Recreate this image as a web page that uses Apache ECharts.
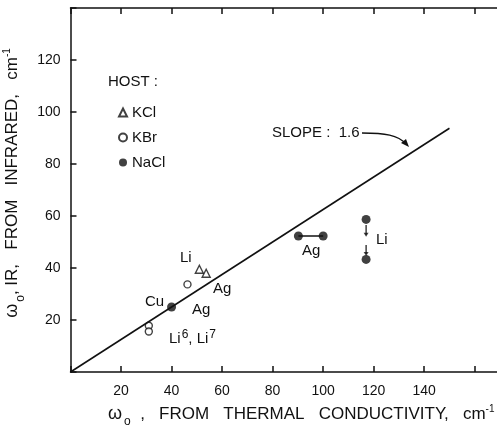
<!DOCTYPE html>
<html><head><meta charset="utf-8">
<script src="https://cdn.jsdelivr.net/npm/echarts@6/dist/echarts.min.js"></script>
<style>html,body{margin:0;padding:0;background:#fff}#c{width:497px;height:434px}</style>
</head><body><div id="c"></div>
<script>
// ---- data ----
const kclX = [51, 53.7];
const kclY = [39.5, 38];
const kbrX = [31, 31, 46.3];
const kbrY = [17.8, 15.6, 33.7];
const naclX = [40, 90.2, 100, 117, 117];
const naclY = [25, 52.3, 52.3, 58.7, 43.3];
const agPairX = [90.2, 100];
const agPairY = [52.3, 52.3];
const slope = 1.6;
const lineX = [0, 150];
const liArrowTopY = [56.5, 52.8];
const liArrowBotY = [48.8, 45.4];
const liArrowX = 117;
const xTickLabels = [20, 40, 60, 80, 100, 120, 140];
const yTickLabels = [20, 40, 60, 80, 100, 120];

const zip = (a, b) => a.map((v, i) => [v, b[i]]);
const FONT = 'Liberation Sans';
const chart = echarts.init(document.getElementById('c'));
const axisCommon = {
  axisLine: {lineStyle: {color: '#111', width: 1.5}},
  axisTick: {inside: true, length: 6, lineStyle: {color: '#111', width: 1.5}},
  splitLine: {show: false}
};
const nameRich = {
  w: {fontFamily: FONT, fontSize: 18, color: '#111'},
  s: {fontFamily: FONT, fontSize: 12, color: '#111', padding: [16, 0, 0, 2]},
  t: {fontFamily: FONT, fontSize: 17, color: '#111'},
  p: {fontFamily: FONT, fontSize: 10, color: '#111', padding: [0, 0, 10, 0]}
};
const txt = (left, top, text) => ({type: 'text', left, top, style: {text, font: '15px ' + FONT, fill: '#111'}});
chart.setOption({
  animation: false,
  backgroundColor: '#fff',
  grid: {left: 70.5, top: 8, right: -3, bottom: 62, containLabel: false, outerBoundsMode: 'none'},
  legend: {
    data: ['KCl', 'KBr', 'NaCl'], orient: 'vertical', left: 113, top: 100,
    itemWidth: 8, itemHeight: 8, itemGap: 10,
    textStyle: {fontFamily: FONT, fontSize: 15, color: '#111'}
  },
  xAxis: [
    Object.assign({type: 'value', min: 0, max: 170, interval: 20, position: 'bottom',
      axisLabel: {fontFamily: FONT, fontSize: 14, color: '#111', margin: 12,
        formatter: v => xTickLabels.includes(v) ? String(v) : ''},
      name: '{w|ω}{s|o}{t|  ,   FROM   THERMAL   CONDUCTIVITY,   cm}{p|-1}',
      nameLocation: 'middle', nameGap: 28,
      nameTextStyle: {padding: [0, 0, 0, 32], rich: nameRich}
    }, axisCommon),
    Object.assign({type: 'value', min: 0, max: 170, interval: 20, position: 'top',
      axisLabel: {show: false}}, axisCommon)
  ],
  yAxis: Object.assign({type: 'value', min: 0, max: 140, interval: 20,
    axisLabel: {fontFamily: FONT, fontSize: 14, color: '#111', margin: 10,
      formatter: v => yTickLabels.includes(v) ? String(v) : ''},
    name: '{w|ω}{s|o}{t|, IR,   FROM   INFRARED,   cm}{p|-1}',
    nameLocation: 'middle', nameGap: 37,
    nameTextStyle: {padding: [0, 0, 0, 14], rich: nameRich}
  }, axisCommon),
  series: [
    {type: 'line', data: lineX.map(x => [x, x / slope]), symbol: 'none',
      lineStyle: {color: '#111', width: 1.6}, silent: true},
    {type: 'line', data: zip(agPairX, agPairY), symbol: 'none',
      lineStyle: {color: '#111', width: 1.3}},
    {type: 'line', data: liArrowTopY.map(y => [liArrowX, y]), symbol: 'none',
      lineStyle: {color: '#111', width: 1.2}},
    {type: 'line', data: liArrowBotY.map(y => [liArrowX, y]), symbol: 'none',
      lineStyle: {color: '#111', width: 1.2}},
    {type: 'scatter', data: [[liArrowX, liArrowTopY[1]]], symbol: 'triangle', symbolSize: [5, 4], symbolRotate: 180,
      itemStyle: {color: '#111'}},
    {type: 'scatter', data: [[liArrowX, liArrowBotY[1]]], symbol: 'triangle', symbolSize: [5, 4], symbolRotate: 180,
      itemStyle: {color: '#111'}},
    {name: 'KCl', type: 'scatter', data: zip(kclX, kclY), symbol: 'triangle', symbolSize: 8,
      itemStyle: {color: '#fff', borderColor: '#111', borderWidth: 1.4}},
    {name: 'KBr', type: 'scatter', data: zip(kbrX, kbrY), symbol: 'circle', symbolSize: 7,
      itemStyle: {color: '#fff', borderColor: '#111', borderWidth: 1.4}},
    {name: 'NaCl', type: 'scatter', data: zip(naclX, naclY), symbol: 'circle', symbolSize: 9,
      itemStyle: {color: '#111'}}
  ],
  graphic: [
    txt(108, 74, 'HOST :'),
    txt(180, 250, 'Li'),
    txt(213, 281, 'Ag'),
    txt(145, 294, 'Cu'),
    txt(192, 302, 'Ag'),
    {type: 'text', left: 169, top: 329, style: {
      text: '{a|Li}{b|6}{a|, Li}{b|7}',
      rich: {a: {font: '15px ' + FONT, fill: '#111'}, b: {font: '12px ' + FONT, fill: '#111', padding: [0, 0, 8, 1]}}}},
    txt(302, 243, 'Ag'),
    txt(376, 232, 'Li'),
    txt(272, 125, 'SLOPE :  1.6'),
    {type: 'bezierCurve', shape: {x1: 362, y1: 133, x2: 406, y2: 144, cpx1: 385, cpy1: 133, cpx2: 398, cpy2: 135},
      style: {stroke: '#111', lineWidth: 1.3, fill: 'none'}},
    {type: 'polygon', shape: {points: [[409, 147], [401, 143], [406, 139]]}, style: {fill: '#111'}}
  ]
});
</script></body></html>
